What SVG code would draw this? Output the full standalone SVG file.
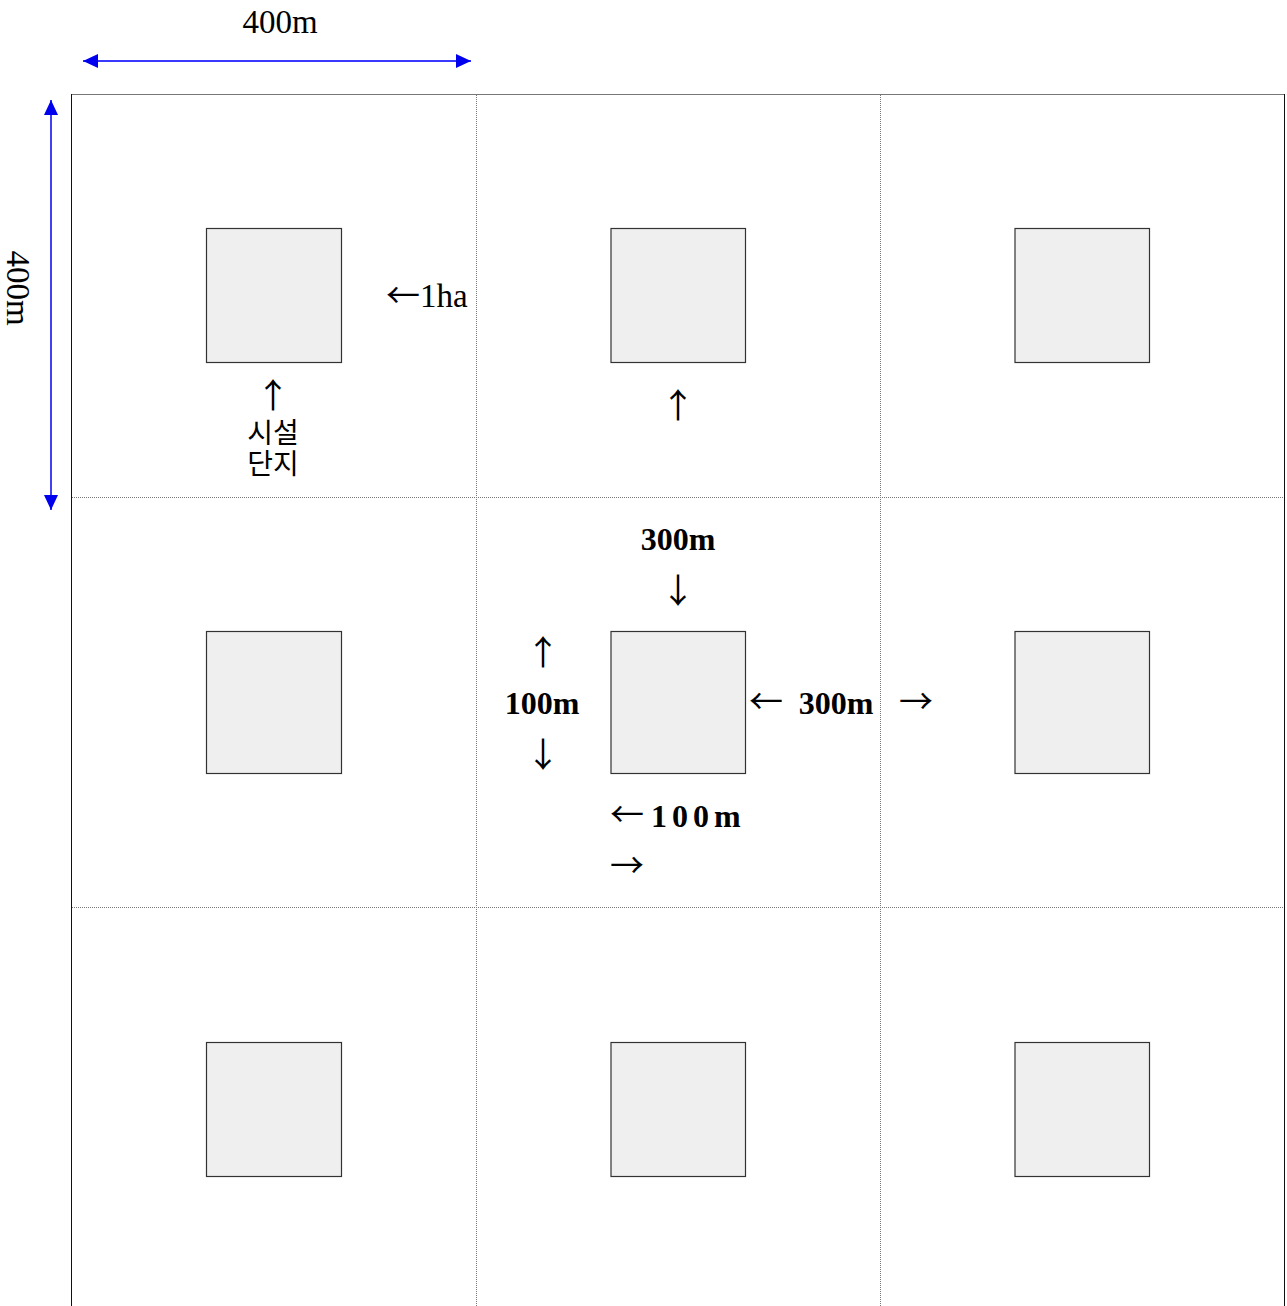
<svg xmlns="http://www.w3.org/2000/svg" width="1287" height="1306" viewBox="0 0 1287 1306">
<style>
.t{font-family:"Liberation Serif","DejaVu Serif",serif;font-size:33px;fill:#000}
.b{font-weight:bold;font-size:32px}
.a{font-family:"Noto Sans CJK KR",sans-serif;font-size:34px;fill:#000;font-weight:400}
.k{font-family:"Noto Sans CJK KR",sans-serif;font-size:28px;fill:#000}
.box{fill:#efefef;stroke:#333;stroke-width:1.2}
.dot{stroke:#777;stroke-width:1;stroke-dasharray:1,1;fill:none}
.dim{stroke:#0000ee;stroke-width:2;fill:none}
</style>
<defs>
<marker id="ah" viewBox="0 0 10 10" refX="10" refY="5" markerWidth="15" markerHeight="14" markerUnits="userSpaceOnUse" orient="auto-start-reverse" preserveAspectRatio="none">
<path d="M0,0 L10,5 L0,10 z" fill="#0000ee"/>
</marker>
</defs>
<rect width="1287" height="1306" fill="#fff"/>
<g id="grid">
<line x1="71" y1="94.5" x2="1285" y2="94.5" stroke="#777" stroke-width="1.2"/>
<line x1="71.5" y1="94" x2="71.5" y2="1306" stroke="#111" stroke-width="1"/>
<line x1="1284.5" y1="94" x2="1284.5" y2="1306" stroke="#111" stroke-width="1"/>
<line class="dot" x1="476.5" y1="95" x2="476.5" y2="1306"/>
<line class="dot" x1="880.5" y1="95" x2="880.5" y2="1306"/>
<line class="dot" x1="72" y1="497.5" x2="1284" y2="497.5"/>
<line class="dot" x1="72" y1="907.5" x2="1284" y2="907.5"/>
</g>
<g id="connectors">
<line class="dim" x1="83" y1="61" x2="471" y2="61" marker-start="url(#ah)" marker-end="url(#ah)" style="stroke:#3a3aff"/>
<line class="dim" x1="51" y1="100" x2="51" y2="510" marker-start="url(#ah)" marker-end="url(#ah)" style="stroke-width:1.5"/>
</g>
<g id="labels">
<text class="t" x="280" y="33" text-anchor="middle">400m</text>
<text class="t" transform="translate(7,288) rotate(90)" text-anchor="middle">400m</text>
<text class="a" x="386" y="308">←</text>
<text class="t" x="420" y="307">1ha</text>
<text class="k" text-anchor="middle"><tspan class="a" x="273" y="408">↑</tspan><tspan x="273" y="443">시설</tspan><tspan x="273" y="474">단지</tspan></text>
<text class="a" x="678" y="418" text-anchor="middle">↑</text>
<text class="t b" x="678" y="550" text-anchor="middle">300m</text>
<text class="a" x="678" y="603" text-anchor="middle">↓</text>
<text class="t b" x="542" y="714" text-anchor="middle">100m</text>
<text class="a" x="543" y="665" text-anchor="middle">↑</text>
<text class="a" x="543" y="767" text-anchor="middle">↓</text>
<text class="a" x="766" y="714" text-anchor="middle">←</text>
<text class="t b" x="836" y="714" text-anchor="middle">300m</text>
<text class="a" x="916" y="714" text-anchor="middle">→</text>
<text class="a" x="610" y="827">←</text>
<text class="t b" x="651" y="827" letter-spacing="5">100m</text>
<text class="a" x="610" y="878">→</text>
</g>
<g id="n11"><rect class="box" x="206.5" y="228.5" width="135" height="134"/></g>
<g id="n12"><rect class="box" x="611" y="228.5" width="134.5" height="134"/></g>
<g id="n13"><rect class="box" x="1015" y="228.5" width="134.5" height="134"/></g>
<g id="n21"><rect class="box" x="206.5" y="631.5" width="135" height="142"/></g>
<g id="n22"><rect class="box" x="611" y="631.5" width="134.5" height="142"/></g>
<g id="n23"><rect class="box" x="1015" y="631.5" width="134.5" height="142"/></g>
<g id="n31"><rect class="box" x="206.5" y="1042.5" width="135" height="134"/></g>
<g id="n32"><rect class="box" x="611" y="1042.5" width="134.5" height="134"/></g>
<g id="n33"><rect class="box" x="1015" y="1042.5" width="134.5" height="134"/></g>
</svg>
